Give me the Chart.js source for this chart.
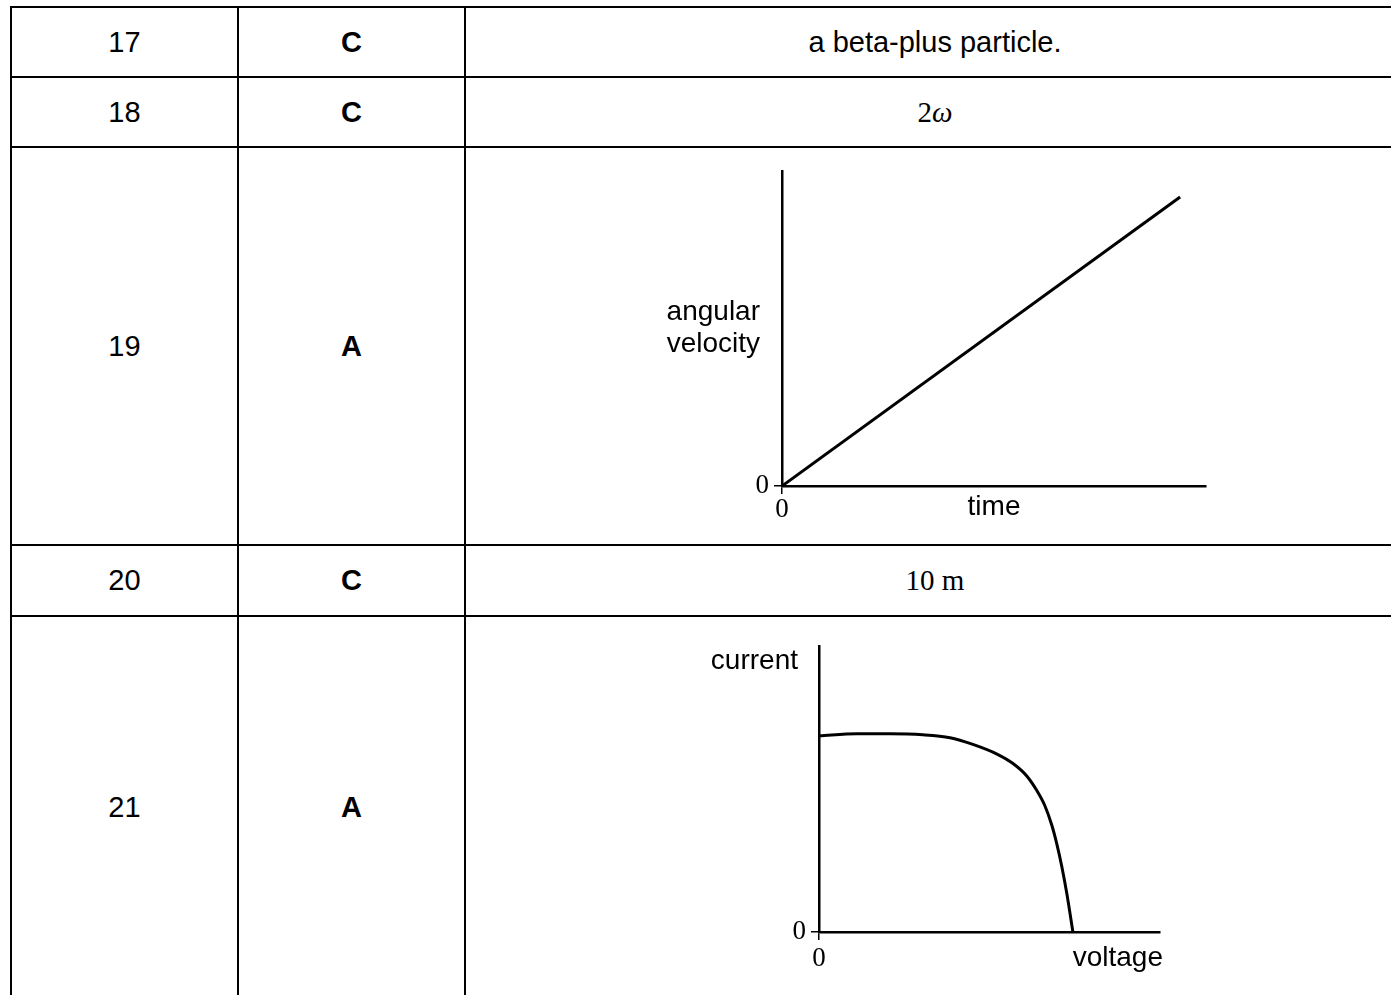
<!DOCTYPE html>
<html>
<head>
<meta charset="utf-8">
<title>Answers 17-21</title>
<script src="https://cdn.jsdelivr.net/npm/chart.js@4.4.1/dist/chart.umd.min.js"></script>
<style>
  html, body { margin: 0; padding: 0; background: #fff; overflow: hidden; }
  body { width: 1391px; height: 995px; position: relative; font-family: "Liberation Sans", Arial, sans-serif; color: #000; }
  table.answers {
    position: absolute; left: 10px; top: 6px; width: 1396px;
    border-collapse: separate; border-spacing: 0; table-layout: fixed;
    border-left: 2px solid #000; border-top: 2px solid #000;
  }
  table.answers td {
    box-sizing: border-box; padding: 0;
    border-right: 2px solid #000; border-bottom: 2px solid #000;
    text-align: center; vertical-align: middle; font-size: 29px;
  }
  td.key { font-weight: bold; }
  td.math { font-family: "Liberation Serif", "Times New Roman", serif; font-size: 35px; }
  .plot { position: absolute; }
  #plot19 { left: 640px; top: 150px; width: 600px; height: 400px; }
  #plot21 { left: 680px; top: 625px; width: 520px; height: 370px; }
</style>
</head>
<body>
<table class="answers">
  <colgroup><col style="width:227px"><col style="width:227px"><col style="width:940px"></colgroup>
  <tr style="height:70px"><td>17</td><td class="key">C</td><td>a beta-plus particle.</td></tr>
  <tr style="height:70px"><td>18</td><td class="key">C</td><td class="math">2<i>ω</i></td></tr>
  <tr style="height:398px"><td>19</td><td class="key">A</td><td></td></tr>
  <tr style="height:71px"><td>20</td><td class="key">C</td><td class="math">10 m</td></tr>
  <tr style="height:382px"><td>21</td><td class="key">A</td><td></td></tr>
</table>

<div class="plot" id="plot19"><canvas id="chart19"></canvas></div>
<div class="plot" id="plot21"><canvas id="chart21"></canvas></div>

<script>
// Q19: angular velocity against time (straight line through origin)
const time19 = [0, 1];
const omega19 = [0, 1];
const time19Max = 1.065;
const omega19Max = 1.089;

// Q21: current against voltage (flat, then drops steeply to zero)
const voltage21 = [0, 0.150, 0.280, 0.409, 0.516, 0.606, 0.701, 0.764, 0.819, 0.858, 0.890, 0.917, 0.937, 0.957, 0.976, 1.0];
const current21 = [0.995, 1.005, 1.005, 1.0, 0.985, 0.951, 0.902, 0.854, 0.790, 0.717, 0.639, 0.541, 0.444, 0.327, 0.195, 0];
const voltage21Max = 1.343;
const current21Max = 1.449;

const tickLabels = ['0'];

const serif = '"Liberation Serif", "Times New Roman", serif';
const sans = '"Liberation Sans", Arial, sans-serif';

// draws the horizontal axis words (Chart.js would rotate the y title)
const axisWords = {
    id: 'axisWords',
    afterDraw(chart, args, opts) {
        const ctx = chart.ctx;
        const a = chart.chartArea;
        ctx.save();
        ctx.fillStyle = '#000';
        ctx.font = '28px ' + sans;
        ctx.textBaseline = 'middle';
        (opts.items || []).forEach(item => {
            const pos = item.at(a);
            ctx.textAlign = item.align;
            item.lines.forEach((line, i) => {
                ctx.fillText(line, pos.x, pos.y + i * item.gap);
            });
        });
        ctx.restore();
    }
};

function onlyZero(scale) {
    scale.ticks = tickLabels.map(t => ({ value: Number(t) }));
}

function axisOptions(max, fitSize, isX, pad) {
    return {
        type: 'linear',
        min: 0,
        max: max,
        afterBuildTicks: onlyZero,
        afterFit: (scale) => {
            if (isX) scale.height = fitSize; else scale.width = fitSize;
        },
        border: { display: true, color: '#000', width: 2.5 },
        grid: { drawOnChartArea: false, drawTicks: true, tickLength: 8, color: '#000', lineWidth: 1.5 },
        ticks: { color: '#000', padding: pad, font: { family: serif, size: 27 }, callback: (v) => String(v) }
    };
}

function makeChart(id, xs, ys, cfg) {
    const ctx = document.getElementById(id).getContext('2d');
    return new Chart(ctx, {
        type: 'line',
        data: {
            datasets: [{
                data: xs.map((x, i) => ({ x: x, y: ys[i] })),
                borderColor: '#000',
                borderWidth: 3,
                pointRadius: 0,
                fill: false,
                cubicInterpolationMode: cfg.smooth ? 'monotone' : 'default',
                tension: 0
            }]
        },
        options: {
            responsive: true,
            maintainAspectRatio: false,
            animation: false,
            layout: { padding: cfg.padding },
            plugins: {
                legend: { display: false },
                tooltip: { enabled: false },
                axisWords: { items: cfg.words }
            },
            scales: {
                x: axisOptions(cfg.xMax, 45, true, cfg.xPad),
                y: axisOptions(cfg.yMax, cfg.yWidth, false, 5)
            }
        },
        plugins: [axisWords]
    });
}

makeChart('chart19', time19, omega19, {
    xMax: time19Max, yMax: omega19Max, yWidth: 142, xPad: 0,
    padding: { left: 0, top: 17, right: 34, bottom: 19 },
    words: [
        { lines: ['angular', 'velocity'], align: 'right', gap: 32,
          at: (a) => ({ x: a.left - 22, y: (a.top + a.bottom) / 2 - 16 }) },
        { lines: ['time'], align: 'center', gap: 0,
          at: (a) => ({ x: (a.left + a.right) / 2, y: a.bottom + 21 }) }
    ]
});

makeChart('chart21', voltage21, current21, {
    xMax: voltage21Max, yMax: current21Max, yWidth: 139, xPad: 3, smooth: true,
    padding: { left: 0, top: 10, right: 40, bottom: 18 },
    words: [
        { lines: ['current'], align: 'right', gap: 0,
          at: (a) => ({ x: a.left - 21, y: a.top + 15 }) },
        { lines: ['voltage'], align: 'right', gap: 0,
          at: (a) => ({ x: a.right + 3, y: a.bottom + 26 }) }
    ]
});
</script>
</body>
</html>
